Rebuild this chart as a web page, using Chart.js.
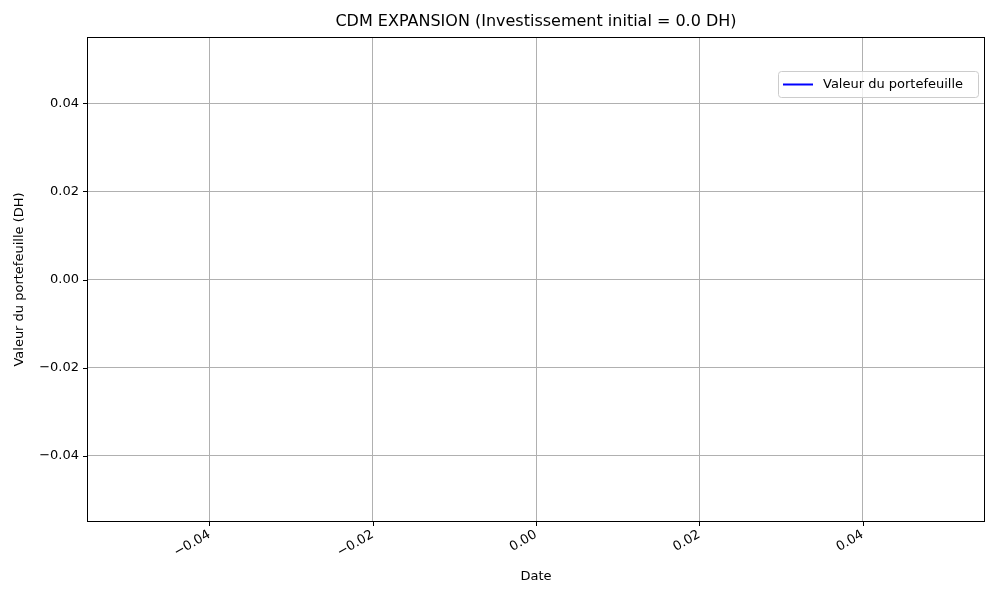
<!DOCTYPE html>
<html><head><meta charset="utf-8">
<script src="https://cdn.jsdelivr.net/npm/chart.js@4"></script>
<style>body{margin:0;background:#fff}#w{width:1000px;height:600px}</style>
</head><body><div id="w"><canvas id="c"></canvas></div>
<script>
const titleText = "CDM EXPANSION (Investissement initial = 0.0 DH)";
const seriesLabel = "Valeur du portefeuille";
const xTitle = "Date";
const yTitle = "Valeur du portefeuille (DH)";
const dates = [];
const values = [];
const tickValues = [-0.04, -0.02, 0.00, 0.02, 0.04];
const fmt = v => (v < 0 ? "\u2212" : "") + Math.abs(v).toFixed(2);
const F = "'DejaVu Sans', sans-serif";

const deco = {
  id: 'deco',
  afterDraw(chart) {
    const {ctx, chartArea: a, scales} = chart;
    ctx.save();
    ctx.strokeStyle = '#000'; ctx.lineWidth = 1;
    ctx.strokeRect(a.left + 0.5, a.top + 0.5, a.right - a.left - 1, a.bottom - a.top - 1);
    ctx.beginPath();
    tickValues.forEach(v => {
      const x = Math.round(scales.x.getPixelForValue(v)) + 0.5;
      ctx.moveTo(x, a.bottom); ctx.lineTo(x, a.bottom + 4);
      const y = Math.round(scales.y.getPixelForValue(v)) + 0.5;
      ctx.moveTo(a.left, y); ctx.lineTo(a.left - 4, y);
    });
    ctx.stroke();
    ctx.fillStyle = '#000';
    ctx.font = "16px " + F; ctx.textAlign = 'center'; ctx.textBaseline = 'middle';
    ctx.fillText(titleText, (a.left + a.right) / 2, 22);
    ctx.font = "13px " + F;
    ctx.fillText(xTitle, (a.left + a.right) / 2, 577);
    ctx.save(); ctx.translate(20, (a.top + a.bottom) / 2); ctx.rotate(-Math.PI / 2);
    ctx.fillText(yTitle, 0, 0); ctx.restore();
    // legend
    const lx = a.right - 207, ly = a.top + 34, lw = 200, lh = 26;
    ctx.fillStyle = 'rgba(255,255,255,0.8)';
    ctx.strokeStyle = '#cccccc';
    ctx.beginPath(); ctx.roundRect(lx + 0.5, ly + 0.5, lw, lh, 3); ctx.fill(); ctx.stroke();
    ctx.strokeStyle = 'blue'; ctx.lineWidth = 2;
    ctx.beginPath(); ctx.moveTo(lx + 5, ly + 13.5); ctx.lineTo(lx + 35, ly + 13.5); ctx.stroke();
    ctx.fillStyle = '#000'; ctx.font = "13px " + F; ctx.textAlign = 'left';
    ctx.fillText(seriesLabel, lx + 45, ly + 14);
    ctx.restore();
  }
};

new Chart(document.getElementById('c'), {
  type: 'line',
  data: { labels: dates, datasets: [{ label: seriesLabel, data: values, borderColor: 'blue', borderWidth: 1.5, pointRadius: 0 }] },
  options: {
    responsive: true, maintainAspectRatio: false, animation: false,
    layout: { padding: { top: 37, right: 15, left: 0, bottom: 0 } },
    plugins: { legend: { display: false }, title: { display: false }, tooltip: { enabled: false } },
    scales: {
      x: {
        type: 'linear', min: -0.055, max: 0.055,
        afterBuildTicks: s => { s.ticks = tickValues.map(v => ({ value: v })); },
        afterFit: s => { s.height = 78; },
        grid: { color: '#b0b0b0', drawTicks: false },
        border: { display: false },
        ticks: { callback: fmt, maxRotation: 30, minRotation: 30, padding: 5, color: '#000', font: { family: F, size: 13 } }
      },
      y: {
        type: 'linear', min: -0.055, max: 0.055,
        afterBuildTicks: s => { s.ticks = tickValues.map(v => ({ value: v })); },
        afterFit: s => { s.width = 87; },
        grid: { color: '#b0b0b0', drawTicks: false },
        border: { display: false },
        ticks: { callback: fmt, padding: 8, color: '#000', font: { family: F, size: 13 } }
      }
    }
  },
  plugins: [deco]
});
</script></body></html>
